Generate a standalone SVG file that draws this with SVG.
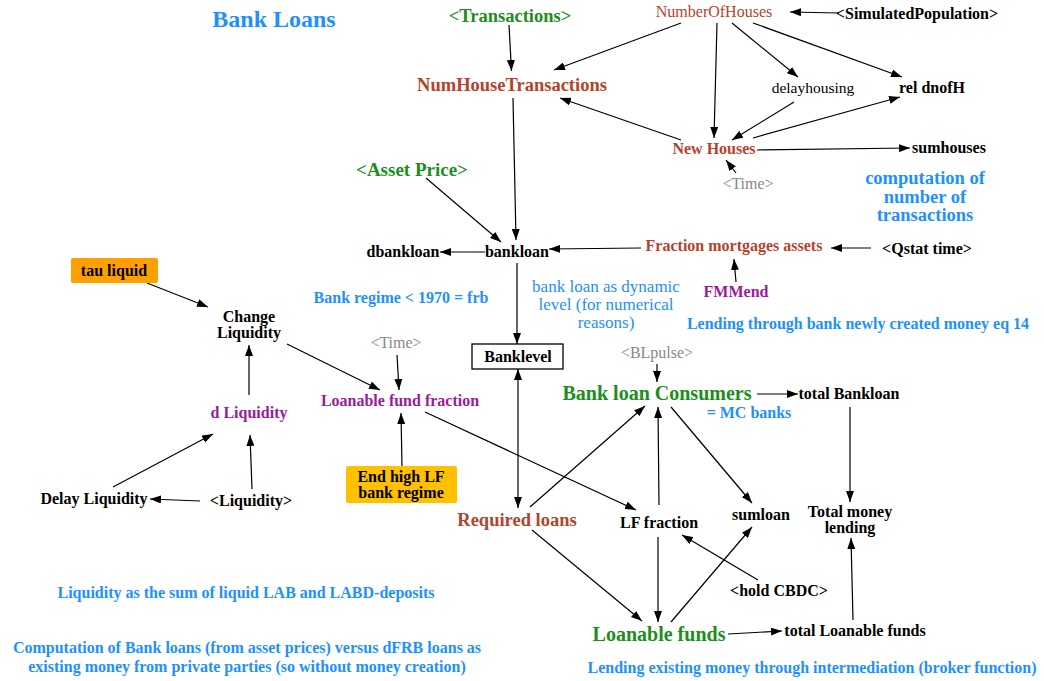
<svg xmlns="http://www.w3.org/2000/svg" width="1044" height="681" viewBox="0 0 1044 681">
<defs>
<marker id="ah" markerUnits="userSpaceOnUse" markerWidth="11" markerHeight="8" refX="11" refY="4" orient="auto">
<path d="M0,0 L11,4 L0,8 z" fill="#000"/>
</marker>
<marker id="ahs" markerUnits="userSpaceOnUse" markerWidth="11" markerHeight="8" refX="0" refY="4" orient="auto">
<path d="M11,0 L0,4 L11,8 z" fill="#000"/>
</marker>
</defs>
<style>
text{font-family:"Liberation Serif","Times New Roman",serif;font-size:16px;font-weight:bold;text-anchor:middle;fill:#000}
.n{font-weight:normal}
.blue{fill:#1E90FF}
.green{fill:#1B8E1B}
.brown{fill:#B4432B}
.purple{fill:#9B1B9B}
.gray{fill:#888;font-weight:normal}
.big{font-size:18.5px}
.xl{font-size:20px}
#connectors line{stroke:#000;stroke-width:1.2;fill:none;marker-end:url(#ah)}
</style>
<rect width="1044" height="681" fill="#fff"/>
<g id="connectors">
<line x1="509" y1="25" x2="511.5" y2="71"/>
<line x1="681" y1="23" x2="554" y2="70"/>
<line x1="717" y1="23" x2="714" y2="138"/>
<line x1="732" y1="23" x2="798" y2="77"/>
<line x1="753" y1="23" x2="902" y2="77"/>
<line x1="839" y1="13" x2="790" y2="12"/>
<line x1="794" y1="102" x2="732" y2="140"/>
<line x1="753" y1="138" x2="900" y2="97"/>
<line x1="681" y1="140" x2="560" y2="98"/>
<line x1="757" y1="150" x2="910" y2="148"/>
<line x1="736" y1="173" x2="726" y2="160"/>
<line x1="513" y1="98" x2="516" y2="240"/>
<line x1="426" y1="178" x2="501" y2="242"/>
<line x1="485" y1="252" x2="440" y2="252"/>
<line x1="641" y1="248" x2="549" y2="249"/>
<line x1="871" y1="248" x2="831" y2="248"/>
<line x1="736" y1="282" x2="734" y2="259"/>
<line x1="517" y1="263" x2="517" y2="344"/>
<line x1="147" y1="283" x2="208" y2="307"/>
<line x1="249" y1="395" x2="249" y2="345"/>
<line x1="113" y1="487" x2="213" y2="434"/>
<line x1="252" y1="489" x2="250" y2="435"/>
<line x1="200" y1="501" x2="150" y2="499"/>
<line x1="287" y1="344" x2="380" y2="390"/>
<line x1="397" y1="355" x2="399" y2="390"/>
<line x1="402" y1="467" x2="401" y2="413"/>
<line x1="425" y1="412" x2="636" y2="510"/>
<line x1="518" y1="369" x2="518" y2="508" style="marker-start:url(#ahs)"/>
<line x1="530" y1="507" x2="645" y2="406"/>
<line x1="659" y1="505" x2="658" y2="407"/>
<line x1="657" y1="364" x2="657" y2="382"/>
<line x1="757" y1="394" x2="798" y2="394"/>
<line x1="671" y1="407" x2="752" y2="503"/>
<line x1="850" y1="407" x2="850" y2="502"/>
<line x1="671" y1="622" x2="752" y2="527"/>
<line x1="758" y1="580" x2="682" y2="535"/>
<line x1="728" y1="634" x2="782" y2="631"/>
<line x1="853" y1="620" x2="851" y2="538"/>
<line x1="658" y1="537" x2="658" y2="622"/>
<line x1="532" y1="530" x2="642" y2="621"/>
</g>
<g id="title"><text x="274" y="27" class="blue" style="font-size:24px">Bank Loans</text></g>
<g id="transactions"><text x="510" y="22" class="green big">&lt;Transactions&gt;</text></g>
<g id="numberofhouses"><text x="714" y="17" class="brown n">NumberOfHouses</text></g>
<g id="simulatedpopulation"><text x="917" y="19">&lt;SimulatedPopulation&gt;</text></g>
<g id="numhousetransactions"><text x="512" y="91" class="brown big">NumHouseTransactions</text></g>
<g id="delayhousing"><text x="813" y="93" class="n" style="font-size:15.5px">delayhousing</text></g>
<g id="reldnofh"><text x="932" y="93">rel dnofH</text></g>
<g id="newhouses"><text x="714" y="154" class="brown">New Houses</text></g>
<g id="sumhouses"><text x="949" y="153">sumhouses</text></g>
<g id="time1"><text x="748" y="189" class="gray">&lt;Time&gt;</text></g>
<g id="note-computation"><text class="blue big" x="925" y="184">computation of</text><text class="blue big" x="925" y="203">number of</text><text class="blue big" x="925" y="221">transactions</text></g>
<g id="assetprice"><text x="412" y="176" class="green" style="font-size:19px">&lt;Asset Price&gt;</text></g>
<g id="dbankloan"><text x="403" y="257">dbankloan</text></g>
<g id="bankloan"><text x="517" y="257">bankloan</text></g>
<g id="fractionmortgages"><text x="734" y="251" class="brown">Fraction mortgages assets</text></g>
<g id="qstattime"><text x="927" y="254">&lt;Qstat time&gt;</text></g>
<g id="fmmend"><text x="736" y="297" class="purple">FMMend</text></g>
<g id="note-dynamic"><text class="blue n" style="font-size:17px" x="606" y="292">bank loan as dynamic</text><text class="blue n" style="font-size:17px" x="606" y="310">level (for numerical</text><text class="blue n" style="font-size:17px" x="606" y="328">reasons)</text></g>
<g id="note-regime"><text class="blue" x="401" y="303">Bank regime &lt; 1970 = frb</text></g>
<g id="note-lending1"><text class="blue" x="858" y="329">Lending through bank newly created money eq 14</text></g>
<g id="tauliquid"><rect x="71" y="258" width="87" height="25" rx="2" fill="#FFA000"/><text x="114" y="276">tau liquid</text></g>
<g id="changeliquidity"><text x="249" y="322">Change</text><text x="249" y="338">Liquidity</text></g>
<g id="time2"><text x="396" y="348" class="gray">&lt;Time&gt;</text></g>
<g id="banklevel"><rect x="472" y="344" width="91" height="25" fill="#fff" stroke="#000" stroke-width="1.3"/><text x="518" y="362">Banklevel</text></g>
<g id="blpulse"><text x="657" y="358" class="gray">&lt;BLpulse&gt;</text></g>
<g id="loanablefundfraction"><text x="400" y="406" class="purple">Loanable fund fraction</text></g>
<g id="bankloanconsumers"><text x="657" y="400" class="green xl">Bank loan Consumers</text></g>
<g id="totalbankloan"><text x="849" y="399">total Bankloan</text></g>
<g id="note-mc"><text class="blue" x="749" y="418">= MC banks</text></g>
<g id="dliquidity"><text x="249" y="418" class="purple">d Liquidity</text></g>
<g id="endhighlf"><rect x="346" y="466" width="111" height="37" rx="2" fill="#FFC000"/><text x="401" y="482">End high LF</text><text x="401" y="498">bank regime</text></g>
<g id="delayliquidity"><text x="94" y="504">Delay Liquidity</text></g>
<g id="liquidity"><text x="251" y="506">&lt;Liquidity&gt;</text></g>
<g id="requiredloans"><text x="517" y="526" class="brown big">Required loans</text></g>
<g id="lffraction"><text x="659" y="528">LF fraction</text></g>
<g id="sumloan"><text x="761" y="520">sumloan</text></g>
<g id="totalmoneylending"><text x="850" y="517">Total money</text><text x="850" y="533">lending</text></g>
<g id="holdcbdc"><text x="779" y="596">&lt;hold CBDC&gt;</text></g>
<g id="note-liquidity"><text class="blue" x="246" y="598">Liquidity as the sum of liquid LAB and LABD-deposits</text></g>
<g id="loanablefunds"><text x="659" y="641" class="green xl">Loanable funds</text></g>
<g id="totalloanablefunds"><text x="855" y="636">total Loanable funds</text></g>
<g id="note-computation2"><text class="blue" x="247" y="653">Computation of Bank loans (from asset prices) versus dFRB loans as</text><text class="blue" x="247" y="672">existing money from private parties (so without money creation)</text></g>
<g id="note-lending2"><text class="blue" x="812" y="673">Lending existing money through intermediation (broker function)</text></g>
</svg>
